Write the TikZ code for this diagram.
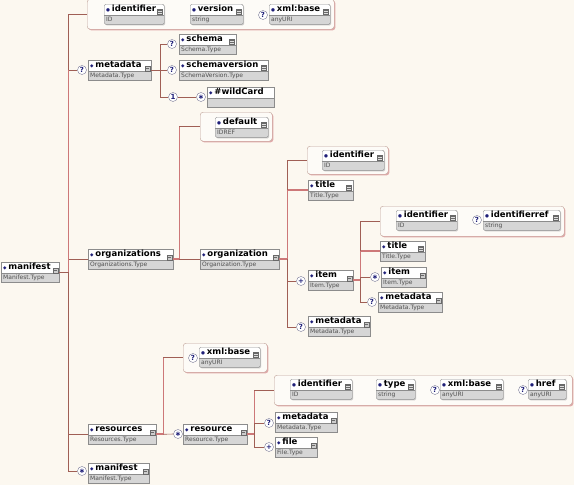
\documentclass[tikz,border=0pt]{standalone}
\usepackage{fontspec}
\setmainfont{DejaVu Sans}
\usetikzlibrary{positioning,shadows}

\definecolor{bgcream}{RGB}{252,248,240}
\definecolor{boxline}{RGB}{140,140,140}
\definecolor{typegray}{RGB}{214,214,214}
\definecolor{typetext}{RGB}{80,80,80}
\definecolor{dblue}{RGB}{30,30,120}
\definecolor{grpline}{RGB}{190,160,150}
\definecolor{grpfill}{RGB}{253,251,247}
\definecolor{grpshadow}{RGB}{225,170,170}
\definecolor{linkbrown}{RGB}{160,95,85}
\definecolor{seqred}{RGB}{205,120,120}
\definecolor{iconfill}{RGB}{205,205,205}
\definecolor{icondark}{RGB}{105,105,105}
\definecolor{cardline}{RGB}{120,120,150}

\newcommand\elname[1]{\rule[-3pt]{0pt}{10.6pt}{\color{dblue}\fontsize{4.5}{5}\selectfont ◆}\hspace{1.8pt}{\fontsize{8.5}{9}\selectfont\bfseries #1}}
\newcommand\attname[1]{\rule[-3pt]{0pt}{10.6pt}{\color{dblue}\fontsize{4.5}{5}\selectfont ●}\hspace{1.8pt}{\fontsize{8.5}{9}\selectfont\bfseries #1}}
\newcommand\eltype[1]{\rule[-2.8pt]{0pt}{9.6pt}{\color{typetext}#1}}
\newcommand\elicon{}

\tikzset{
        elem/.style={draw=boxline, fill=white, text width=#1, align=left,
            inner xsep=2pt, inner ysep=0pt, anchor=north west, font=\fontsize{6}{9.8}\selectfont,
            drop shadow={shadow xshift=1pt, shadow yshift=-1pt, fill=black!40, opacity=.5},
            path picture={
                \fill[typegray, sharp corners] (path picture bounding box.south west) rectangle ([yshift=9.6pt]path picture bounding box.south east);
                \draw[boxline, line width=.4pt] ([yshift=9.6pt]path picture bounding box.south west) -- ([yshift=9.6pt]path picture bounding box.south east);
                \elicon}},
        attr/.style={elem=#1, rounded corners=1.5pt},
        complex/.code={\def\elicon{
            \filldraw[fill=iconfill, draw=icondark, line width=.4pt, sharp corners]
                ([xshift=-6.5pt,yshift=-5.5pt]path picture bounding box.north east) rectangle ++(5pt,-5pt);
            \draw[icondark, line width=.4pt, sharp corners]
                ([xshift=-5.5pt,yshift=-7.5pt]path picture bounding box.north east) -- ++(2.2pt,0) -- ++(0,-1.6pt);}},
        simple/.code={\def\elicon{
            \fill[icondark, sharp corners]
                ([xshift=-7pt,yshift=-5pt]path picture bounding box.north east) rectangle ++(5.5pt,-5.5pt);
            \draw[white!75!gray, line width=.4pt]
                ([xshift=-6pt,yshift=-7pt]path picture bounding box.north east) -- ++(3.5pt,0)
                ([xshift=-6pt,yshift=-8.6pt]path picture bounding box.north east) -- ++(3.5pt,0);}},
        attrgroup/.style={draw=grpline, fill=grpfill, rounded corners=3pt, anchor=north west,
            inner sep=0pt, drop shadow={shadow xshift=1.2pt, shadow yshift=-1.2pt, fill=grpshadow, opacity=1}},
        card/.style={circle, draw=cardline, fill=white, inner sep=0pt, minimum size=9pt,
            text=dblue, font=\fontsize{7}{7}\selectfont\bfseries},
        link/.style={draw=linkbrown, line width=0.6pt},
        seq/.style={draw=seqred, line width=1.8pt},
    }

\begin{document}
\begin{tikzpicture}[x=1pt, y=-1pt]

        \useasboundingbox (0,0) rectangle (574,485);
        \fill[bgcream] (0,0) rectangle (574,485);

        % Root element
        \node[elem=54pt, complex] (manifest) at (1,262) {\elname{manifest}\\\eltype{Manifest.Type}};

        % manifest attributes
        \node[attrgroup, minimum width=247pt, minimum height=30pt] (mattrs) at (87,-1) {};
        \node[attr=56pt, simple] (midentifier) at (104,4) {\attname{identifier}\\\eltype{ID}};
        \node[attr=49pt, simple] (mversion) at (190,4) {\attname{version}\\\eltype{string}};
        \node[card] (mbasecard) at (263,15) {?};
        \node[attr=57pt, simple] (mbase) at (269,4) {\attname{xml:base}\\\eltype{anyURI}};

        % metadata
        \node[card] (mmetacard) at (82,70) {?};
        \node[elem=59pt, complex] (mmeta) at (88,60) {\elname{metadata}\\\eltype{Metadata.Type}};
        \node[card] (schemacard) at (172,44) {?};
        \node[elem=53pt, simple] (schema) at (179,34) {\elname{schema}\\\eltype{Schema.Type}};
        \node[card] (svcard) at (172,70) {?};
        \node[elem=85pt, simple] (schemaversion) at (179,60) {\elname{schemaversion}\\\eltype{SchemaVersion.Type}};
        \node[card] (wccard) at (173,97) {1};
        \node[card] (wcanycard) at (201,97) {∗};
        \node[elem=63pt] (wildcard) at (207,87) {\elname{\#wildCard}\\\eltype{}};

        % organizations
        \node[elem=81pt, complex] (orgs) at (88,249) {\elname{organizations}\\\eltype{Organizations.Type}};
        \node[attrgroup, minimum width=72pt, minimum height=29pt] (defattrs) at (200,112) {};
        \node[attr=49pt, simple] (default) at (215,117) {\attname{default}\\\eltype{IDREF}};
        \node[elem=75pt, complex] (org) at (200,249) {\elname{organization}\\\eltype{Organization.Type}};

        % organization children
        \node[attrgroup, minimum width=81pt, minimum height=28pt] (orgattrs) at (307,146) {};
        \node[attr=58pt, simple] (oidentifier) at (322,150) {\attname{identifier}\\\eltype{ID}};
        \node[elem=41pt, simple] (otitle) at (308,180) {\elname{title}\\\eltype{Title.Type}};
        \node[card] (oitemcard) at (301,281) {+};
        \node[elem=41pt, complex] (oitem) at (308,270) {\elname{item}\\\eltype{Item.Type}};
        \node[card] (ometacard) at (301,327) {?};
        \node[elem=58pt, complex] (ometa) at (308,316) {\elname{metadata}\\\eltype{Metadata.Type}};

        % item children
        \node[attrgroup, minimum width=184pt, minimum height=30pt] (itemattrs) at (380,206) {};
        \node[attr=57pt, simple] (iidentifier) at (396,210) {\attname{identifier}\\\eltype{ID}};
        \node[card] (irefcard) at (477,220) {?};
        \node[attr=73pt, simple] (iidref) at (483,210) {\attname{identifierref}\\\eltype{string}};
        \node[elem=41pt, simple] (ititle) at (380,241) {\elname{title}\\\eltype{Title.Type}};
        \node[card] (iitemcard) at (375,277) {∗};
        \node[elem=41pt, complex] (iitem) at (381,267) {\elname{item}\\\eltype{Item.Type}};
        \node[card] (imetacard) at (372,302) {?};
        \node[elem=60pt, complex] (imeta) at (378,292) {\elname{metadata}\\\eltype{Metadata.Type}};

        % resources
        \node[elem=64pt, complex] (res) at (88,424) {\elname{resources}\\\eltype{Resources.Type}};
        \node[attrgroup, minimum width=84pt, minimum height=29pt] (rbaseattrs) at (183,343) {};
        \node[card] (rbasecard) at (193,358) {?};
        \node[attr=57pt, simple] (rbase) at (199,347) {\attname{xml:base}\\\eltype{anyURI}};
        \node[card] (rescard) at (178,434) {∗};
        \node[elem=60pt, complex] (resource) at (183,424) {\elname{resource}\\\eltype{Resource.Type}};

        % resource children
        \node[attrgroup, minimum width=298pt, minimum height=30pt] (resattrs) at (274,375) {};
        \node[attr=58pt, simple] (ridentifier) at (290,379) {\attname{identifier}\\\eltype{ID}};
        \node[attr=35pt, simple] (rtype) at (376,379) {\attname{type}\\\eltype{string}};
        \node[card] (rxbasecard) at (435,390) {?};
        \node[attr=59pt, simple] (rxbase) at (440,379) {\attname{xml:base}\\\eltype{anyURI}};
        \node[card] (hrefcard) at (523,390) {?};
        \node[attr=34pt, simple] (href) at (528,379) {\attname{href}\\\eltype{anyURI}};
        \node[card] (rmetacard) at (269,423) {?};
        \node[elem=58pt, complex] (rmeta) at (275,412) {\elname{metadata}\\\eltype{Metadata.Type}};
        \node[card] (filecard) at (269,447) {+};
        \node[elem=38pt, complex] (file) at (275,437) {\elname{file}\\\eltype{File.Type}};

        % recursive manifest
        \node[card] (mbotcard) at (82,471) {∗};
        \node[elem=57pt, complex] (mbot) at (88,463) {\elname{manifest}\\\eltype{Manifest.Type}};

        % trunk
        \coordinate (trunk) at ([xshift=9pt]manifest.east);
        \draw[link] (manifest.east) -- (trunk);
        \draw[link] (mattrs.west) -| (trunk);
        \draw[link] (mmetacard.west) -| (trunk);
        \draw[link] (orgs.west) -| (trunk);
        \draw[link] (res.west) -| (trunk);
        \draw[link] (mbotcard.west) -| (trunk);
        \draw[seq] (trunk |- mmetacard.west) -- (trunk);

        % metadata branch
        \coordinate (mb) at ([xshift=9pt]mmeta.east);
        \draw[link] (mmeta.east) -- (mb);
        \draw[link] (schemacard.west) -| (mb);
        \draw[link] (svcard.west) -| (mb);
        \draw[link] (wccard.west) -| (mb);
        \draw[link] (wccard) -- (wcanycard);

        % organizations branch
        \coordinate (ob) at ([xshift=6pt]orgs.east);
        \draw[seq] (orgs.east) -- (ob) -- (ob |- defattrs.west);
        \draw[link] (ob |- defattrs.west) -- (defattrs.west);
        \draw[link] (ob) -- (org.west);

        % organization branch
        \coordinate (gb) at ([xshift=8pt]org.east);
        \draw[seq] (org.east) -- (gb) -- (gb |- otitle.west) -- (otitle.west);
        \draw[link] (gb |- otitle.west) |- (orgattrs.west);
        \draw[link] (gb) |- (oitemcard.west);
        \draw[link] (gb) |- (ometacard.west);

        % item branch
        \coordinate (ib) at ([xshift=7pt]oitem.east);
        \draw[seq] (oitem.east) -- (ib) -- (ib |- ititle.west) -- (ititle.west);
        \draw[link] (ib |- ititle.west) |- (itemattrs.west);
        \draw[link] (ib) |- (iitemcard.west);
        \draw[link] (ib) |- (imetacard.west);

        % resources branch
        \coordinate (rb) at ([xshift=7pt]res.east);
        \draw[seq] (res.east) -- (rb) -- (rb |- rbaseattrs.west);
        \draw[link] (rb |- rbaseattrs.west) -- (rbaseattrs.west);
        \draw[link] (rb) -- (rescard.west);

        % resource branch
        \coordinate (sb) at ([xshift=7pt]resource.east);
        \draw[seq] (resource.east) -- (sb) -- (sb |- resattrs.west);
        \draw[link] (sb |- resattrs.west) -- (resattrs.west);
        \draw[link] (sb) |- (rmetacard.west);
        \draw[link] (sb) |- (filecard.west);

    \end{tikzpicture}
\end{document}
